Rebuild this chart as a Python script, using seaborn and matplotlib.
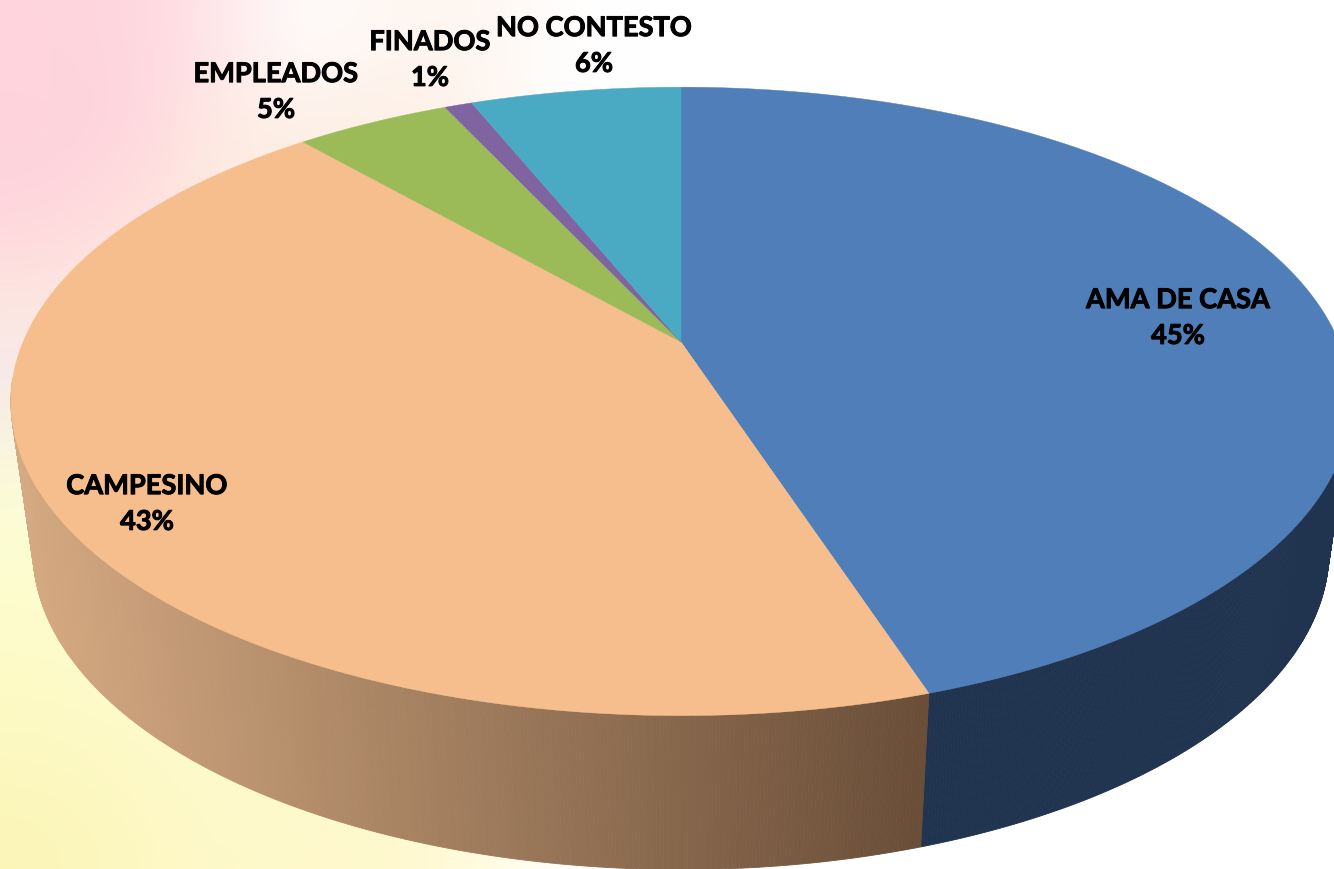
import numpy as np
import matplotlib
matplotlib.use('Agg')
import matplotlib.pyplot as plt
import matplotlib.patheffects as pe
import seaborn as sns

# datos
categorias = ['AMA DE CASA', 'CAMPESINO', 'EMPLEADOS', 'FINADOS', 'NO CONTESTO']
valores = [45.0, 43.6, 4.5, 0.8, 6.1]
etiquetas_pct = ['45%', '43%', '5%', '1%', '6%']
colores = ['#4F7EB9', '#F6BE8C', '#9BBB59', '#8064A2', '#4AA9C3']

# posicion de las etiquetas (pixeles)
pos_x = [1178, 147, 276, 430, 594]
pos_y = [319, 505, 93, 61, 47]

ANCHO, ALTO = 1334, 870

# fondo: rejilla de colores, se suaviza con imshow
fondo = np.array([
    ['#FFD5DD', '#FFD6DE', '#FFE6EA', '#FFFFFF', '#FFF6F0', '#FFF6F0', '#FFFFFF', '#FFFFFF'],
    ['#FFD3DC', '#FFD3DC', '#FEEDE3', '#FDEFE5', '#FDEDE2', '#FFF5EE', '#FFFFFF', '#FFFFFF'],
    ['#FFD5DC', '#FFE0DE', '#FDEDE2', '#FDEDE2', '#FDEDE2', '#FFF5EE', '#FFFFFF', '#FFFFFF'],
    ['#FDE8E0', '#FDEDE2', '#FDEDE2', '#FFFFFF', '#FFFFFF', '#FFFFFF', '#FFFFFF', '#FFFFFF'],
    ['#F5E9EC', '#F5E9EC', '#FFFFFF', '#FFFFFF', '#FFFFFF', '#FFFFFF', '#FFFFFF', '#FFFFFF'],
    ['#FBFBD8', '#FDFDD8', '#FFFFFF', '#FFFFFF', '#FFFFFF', '#FFFFFF', '#FFFFFF', '#FFFFFF'],
    ['#FDFDD2', '#FEFED6', '#FFFFFF', '#FFFFFF', '#FFFFFF', '#FFFFFF', '#FFFFFF', '#FFFFFF'],
    ['#FDFBC8', '#FEFCD0', '#FEFCD4', '#FFFFFF', '#FFFFFF', '#FFFFFF', '#FFFFFF', '#FFFFFF'],
    ['#FDF9C2', '#FEFAC8', '#FEFBCE', '#FFFBD2', '#FFFCDC', '#FFFDE8', '#FFFFFF', '#FFFFFF'],
    ['#FBF5B8', '#FDF8C2', '#FEF9C8', '#FFF9CC', '#FFF8CC', '#FFFBDC', '#FFFFFF', '#FFFFFF'],
])
fondo_rgb = np.array([[matplotlib.colors.to_rgb(c) for c in fila] for fila in fondo])


def proyectar(ang):
    # circulo unitario visto en perspectiva (ang en grados desde arriba, horario)
    t = np.radians(ang)
    xu, yu = np.sin(t), np.cos(t)
    k = 0.189
    den = 1 + k * yu
    return 681 + 658 * xu / den, 343 - 303 * yu / den


def abajo(x, y):
    # borde inferior del cilindro
    return 681 + (x - 681) * 0.967, 552 + (y - 402.5) * 1.014


sns.set_theme(style='white')
plt.rcParams['font.family'] = ['Lato', 'DejaVu Sans']

fig, ax = plt.subplots(figsize=(ANCHO / 100, ALTO / 100), dpi=100)
fig.subplots_adjust(0, 0, 1, 1)
ax.axis('off')
ax.imshow(fondo_rgb, extent=(0, 700, 870, 0), interpolation='bicubic', aspect='auto', zorder=0)
ax.set_xlim(0, ANCHO)
ax.set_ylim(ALTO, 0)

limites = np.cumsum([0] + valores) * 3.6

# pared lateral: azul oscuro y degradado del campesino, solo la parte de adelante
rampa = sns.blend_palette(['#D5AA82', '#6A4E38'], 256)
angulos = np.linspace(0, 360, 1441)
for a0, a1 in zip(angulos[:-1], angulos[1:]):
    xa, ya = proyectar(np.array([a0, a1]))
    if ya.mean() < 380:
        continue
    xb, yb = abajo(xa, ya)
    if a0 < limites[1]:
        color = '#203450'
        zo = 1
    else:
        f = (xa.mean() - 11) / (919 - 11)
        color = rampa[int(np.clip(f, 0, 1) * 255)]
        zo = 2
    ax.fill([xa[0], xa[1], xb[1], xb[0]], [ya[0], ya[1], yb[1], yb[0]],
            color=color, lw=0.6, zorder=zo)

# tapa superior
for i, c in enumerate(colores):
    ang = np.linspace(limites[i], limites[i + 1], 300)
    xs, ys = proyectar(ang)
    ax.fill(np.r_[681, xs], np.r_[343, ys], color=c, lw=0.3, zorder=3)

for nombre, pct, x, y in zip(categorias, etiquetas_pct, pos_x, pos_y):
    ax.text(x, y, nombre + '\n' + pct, ha='center', va='center', fontsize=19.6,
            fontweight='bold', color='black', linespacing=1.59, zorder=4,
            path_effects=[pe.withStroke(linewidth=0.7, foreground='black')])

fig.savefig('out.png', dpi=100)
